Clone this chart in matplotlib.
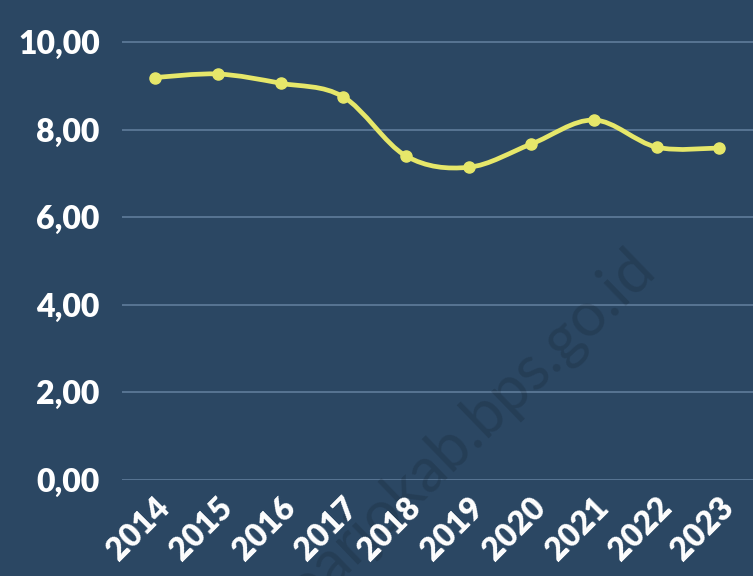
import numpy as np
import matplotlib
matplotlib.use("Agg")
from matplotlib import pyplot as plt
from matplotlib.path import Path
from matplotlib.patches import PathPatch
from matplotlib.transforms import ScaledTranslation, blended_transform_factory

years = ['2014', '2015', '2016', '2017', '2018', '2019', '2020', '2021', '2022', '2023']
values = [9.19, 9.27, 9.06, 8.75, 7.40, 7.14, 7.67, 8.22, 7.60, 7.58]
yticks = [0, 2, 4, 6, 8, 10]
ytick_labels = ['0,00', '2,00', '4,00', '6,00', '8,00', '10,00']

bg = '#2b4763'
line_col = '#e6e76a'
grid_col = '#5f7d9b'

plt.rcParams['font.family'] = ['Lato', 'DejaVu Sans']

fig = plt.figure(figsize=(7.53, 5.76), dpi=100, facecolor=bg)
ax = fig.add_axes([122/753, 96/576, 631/753, 480/576])
ax.set_facecolor(bg)

xs = np.arange(len(values), dtype=float)
ys = np.array(values)

# smooth curve through the points (cubic bezier, catmull-rom style)
verts = [(xs[0], ys[0])]
codes = [Path.MOVETO]
n = len(xs)
for i in range(n - 1):
    p0 = np.array([xs[max(i - 1, 0)], ys[max(i - 1, 0)]])
    p1 = np.array([xs[i], ys[i]])
    p2 = np.array([xs[i + 1], ys[i + 1]])
    p3 = np.array([xs[min(i + 2, n - 1)], ys[min(i + 2, n - 1)]])
    c1 = p1 + (p2 - p0) / 6
    c2 = p2 - (p3 - p1) / 6
    verts += [tuple(c1), tuple(c2), tuple(p2)]
    codes += [Path.CURVE4] * 3
ax.add_patch(PathPatch(Path(verts, codes), facecolor='none', edgecolor=line_col,
                       lw=3.4, capstyle='round', joinstyle='round', zorder=3))
ax.plot(xs, ys, 'o', color=line_col, markersize=8, zorder=4)

ax.set_xlim(-0.53, 9.54)
ax.set_ylim(0, 10.96)
ax.set_yticks(yticks)
ax.set_yticklabels(ytick_labels)
ax.set_xticks(xs)
ax.set_xticklabels([])
ax.tick_params(axis='both', length=0, colors='white')
ax.tick_params(axis='y', pad=16, labelsize=23)
for lab in ax.get_yticklabels():
    lab.set_fontweight('heavy')
    lab.set_color('white')

# rotated year labels, placed below each tick
xlab_tr = blended_transform_factory(ax.transData, ax.transAxes) + \
    ScaledTranslation(0.10, -0.23, fig.dpi_scale_trans)
for x, yr in zip(xs, years):
    ax.text(x, 0, yr, transform=xlab_tr, rotation=45, ha='right', va='center',
            rotation_mode='anchor', fontsize=23, fontweight='heavy', color='white',
            clip_on=False, zorder=5)

ax.grid(axis='y', color=grid_col, lw=1.2)
ax.set_axisbelow(True)
for s in ax.spines.values():
    s.set_visible(False)

# watermark, behind the tick labels
ax.text(658/753, 1 - 272/576, 'sidoarjokab.bps.go.id', transform=fig.transFigure,
        rotation=44, fontsize=44, color='black', alpha=0.13, ha='right', va='baseline',
        rotation_mode='anchor', zorder=1, clip_on=False)

fig.savefig('out.png', dpi=100, facecolor=bg)
